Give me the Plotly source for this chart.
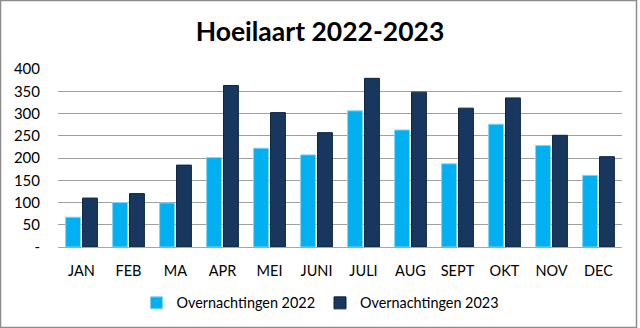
import plotly.graph_objects as go

months = ["JAN", "FEB", "MA", "APR", "MEI", "JUNI", "JULI", "AUG", "SEPT", "OKT", "NOV", "DEC"]
y2022 = [67, 100, 99, 201, 222, 207, 306, 263, 187, 276, 228, 161]
y2023 = [110, 120, 184, 363, 302, 257, 379, 348, 312, 335, 251, 203]
tick_vals = [0, 50, 100, 150, 200, 250, 300, 350, 400]
tick_text = ["-", "50", "100", "150", "200", "250", "300", "350", "400"]

W, H = 640, 328
ml, mr, mt, mb = 58, 18, 69, 81
pw, ph = W - ml - mr, H - mt - mb

fig = go.Figure()
fig.add_trace(go.Bar(x=months, y=y2022, name="Overnachtingen 2022",
                     marker=dict(color="#00B0F0", line=dict(color="#7FD7F7", width=1))))
fig.add_trace(go.Bar(x=months, y=y2023, name="Overnachtingen 2023",
                     marker=dict(color="#17375E", line=dict(color="#0F2540", width=1))))

fig.update_layout(
    width=W, height=H,
    margin=dict(l=ml, r=mr, t=mt, b=mb, autoexpand=False),
    paper_bgcolor="white", plot_bgcolor="white",
    font=dict(family="Lato, 'Open Sans', sans-serif", color="#000000", size=14),
    title=dict(text="<b>Hoeilaart 2022-2023</b>", x=0.5, xanchor="center",
               y=1 - 32 / H, yanchor="middle", font=dict(size=26.5, color="#000000")),
    barmode="group", bargap=0.28, bargroupgap=0.12,
    showlegend=True,
    legend=dict(orientation="h", xref="container", yref="container",
                x=0.5, xanchor="center", y=1 - 303 / H,
                yanchor="middle", font=dict(size=14.4), itemwidth=30, traceorder="normal",
                bgcolor="rgba(0,0,0,0)"),
    xaxis=dict(showgrid=False, showline=True, linecolor="#A6A6A6", linewidth=1.3,
               ticks="", tickfont=dict(size=14.5), ticklabelstandoff=10),
    yaxis=dict(range=[0, 400], tickvals=tick_vals, ticktext=tick_text,
               showgrid=True, gridcolor="#A0A0A0", gridwidth=1.4,
               zeroline=False, showline=False, ticks="", tickfont=dict(size=15),
               ticklabelstandoff=17),
    shapes=[dict(type="rect", xref="paper", yref="paper",
                 x0=-(ml - 0.5) / pw, x1=(W - ml - 3.5) / pw,
                 y0=-(mb - 0.5) / ph, y1=(H - mb - 0.5) / ph,
                 line=dict(color="#8C8C8C", width=1.5), fillcolor="rgba(0,0,0,0)", layer="below")],
)

fig.write_html("out.html")
